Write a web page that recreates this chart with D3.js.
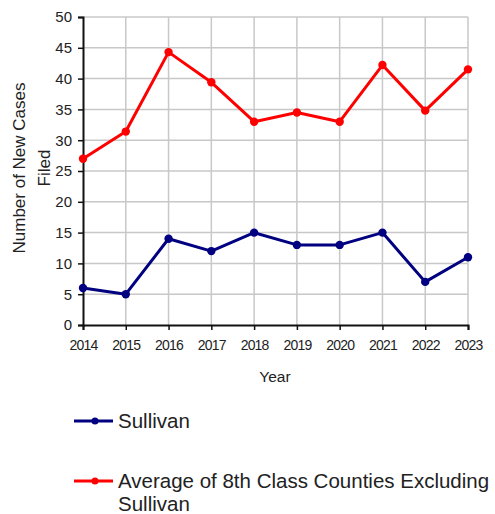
<!DOCTYPE html>
<html><head><meta charset="utf-8">
<script src="https://cdn.jsdelivr.net/npm/d3@7"></script>
<style>body{margin:0;background:#fff}svg{display:block}text{font-family:"Liberation Sans",Arial,sans-serif;fill:#222}</style>
</head><body>
<svg id="c" width="495" height="514"></svg>
<script>
const years = [2014,2015,2016,2017,2018,2019,2020,2021,2022,2023];
const sullivan = [6,5,14,12,15,13,13,15,7,11];
const average8th = [27,31.4,44.3,39.4,33,34.5,33,42.2,34.8,41.5];
const yTicks = [0,5,10,15,20,25,30,35,40,45,50];
const seriesNames = ["Sullivan","Average of 8th Class Counties Excluding Sullivan"];
const colors = ["#000080","#ff0000"];

const svg = d3.select("#c");
const m = {l:83, r:468, t:17, b:325};
const x = d3.scalePoint().domain(years).range([m.l, m.r]);
const y = d3.scaleLinear().domain([0,50]).range([m.b, m.t]);

// grid
svg.append("g").selectAll("line").data(yTicks.slice(1)).join("line")
  .attr("x1", m.l).attr("x2", m.r).attr("y1", d=>y(d)).attr("y2", d=>y(d))
  .attr("stroke","#c8c8c8").attr("stroke-width",1.5);
svg.append("g").selectAll("line").data(years.slice(1)).join("line")
  .attr("x1", d=>x(d)).attr("x2", d=>x(d)).attr("y1", m.t).attr("y2", m.b)
  .attr("stroke","#c8c8c8").attr("stroke-width",1.5);

// axes
const yAxis = svg.append("g").attr("transform",`translate(${m.l},0)`)
  .call(d3.axisLeft(y).tickValues(yTicks).tickSize(5).tickPadding(6));
const xAxis = svg.append("g").attr("transform",`translate(0,${m.b})`)
  .call(d3.axisBottom(x).tickSize(5).tickPadding(10).tickFormat(d3.format("d")));
[yAxis,xAxis].forEach(a=>{
  a.select(".domain").attr("stroke","#111").attr("stroke-width",2);
  a.selectAll(".tick line").attr("stroke","#111").attr("stroke-width",1.5);
  a.selectAll("text").attr("font-size",15).attr("fill","#222")
   .attr("font-family","'Liberation Sans',Arial,sans-serif");
});
xAxis.selectAll("text").attr("font-size",14).attr("letter-spacing","-0.8");

// titles
svg.append("text").attr("x",275).attr("y",382).attr("text-anchor","middle")
  .attr("font-size",15.5).text("Year");
const yt = svg.append("text").attr("transform","translate(25,168) rotate(-90)")
  .attr("text-anchor","middle").attr("font-size",17);
yt.append("tspan").attr("x",0).attr("dy",0).text("Number of New Cases");
yt.append("tspan").attr("x",0).attr("dy",25).text("Filed");

// series
const all = [sullivan, average8th];
all.forEach((vals,i)=>{
  const line = d3.line().x((d,j)=>x(years[j])).y(d=>y(d));
  svg.append("path").datum(vals).attr("d",line).attr("fill","none")
    .attr("stroke",colors[i]).attr("stroke-width",3).attr("stroke-linejoin","round");
  svg.append("g").selectAll("circle").data(vals).join("circle")
    .attr("cx",(d,j)=>x(years[j])).attr("cy",d=>y(d)).attr("r",4.2).attr("fill",colors[i]);
});

// legend
const leg = [{yy:421, lines:["Sullivan"]},{yy:481, lines:["Average of 8th Class Counties Excluding","Sullivan"]}];
leg.forEach((L,i)=>{
  const g = svg.append("g");
  g.append("line").attr("x1",74).attr("x2",113).attr("y1",L.yy).attr("y2",L.yy)
    .attr("stroke",colors[i]).attr("stroke-width",3);
  g.append("circle").attr("cx",95).attr("cy",L.yy).attr("r",3.5).attr("fill",colors[i]);
  L.lines.forEach((t,k)=>{
    g.append("text").attr("x",118).attr("y",L.yy+6.5+k*23).attr("font-size",20.5).text(t);
  });
});
</script>
</body></html>
